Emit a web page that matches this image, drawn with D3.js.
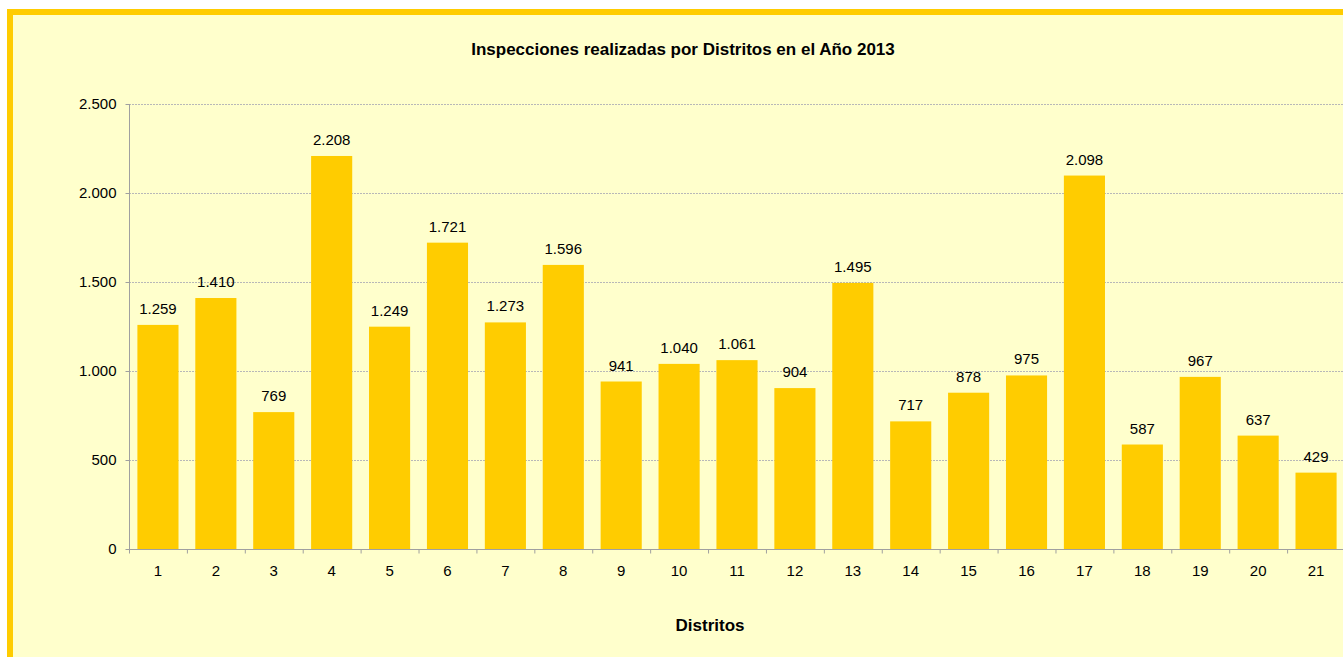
<!DOCTYPE html>
<html><head><meta charset="utf-8">
<script src="https://cdn.jsdelivr.net/npm/d3@7/dist/d3.min.js"></script>
<style>html,body{margin:0;padding:0;background:#fff;overflow:hidden}</style>
</head><body>
<svg id="c" width="1343" height="657"></svg>
<script>
const categories = ["1","2","3","4","5","6","7","8","9","10","11","12","13","14","15","16","17","18","19","20","21"];
const values = [1259,1410,769,2208,1249,1721,1273,1596,941,1040,1061,904,1495,717,878,975,2098,587,967,637,429];
const yTicks = [0,500,1000,1500,2000,2500];
const title = "Inspecciones realizadas por Distritos en el Año 2013";
const xTitle = "Distritos";

(function(){
const svg = d3.select("#c");
const font = "Liberation Sans, Arial, sans-serif";
// frame
svg.append("rect").attr("x",10).attr("y",12).attr("width",1343).attr("height",700)
  .attr("fill","#FFFFCC").attr("stroke","#FFCC00").attr("stroke-width",6);

const pLeft = 129, pRight = 1345, pTop = 104, pBottom = 549;
const x = d3.scaleBand().domain(categories).range([pLeft,pRight]).paddingInner(0.29).paddingOuter(0.145);
const y = d3.scaleLinear().domain([0,2500]).range([pBottom,pTop]);

// gridlines
svg.append("g").selectAll("line").data(yTicks.filter(d=>d>0)).join("line")
  .attr("x1",pLeft).attr("x2",1343).attr("y1",d=>y(d)+0.5).attr("y2",d=>y(d)+0.5)
  .attr("stroke","#b8b8b8").attr("stroke-width",1).attr("stroke-dasharray","2,1");

// bars
svg.append("g").selectAll("rect").data(values).join("rect")
  .attr("x",(d,i)=>x(categories[i])).attr("width",x.bandwidth())
  .attr("y",d=>y(d)).attr("height",d=>pBottom-y(d)).attr("fill","#FFCC00");

// value labels
const fmt = d3.formatLocale({decimal:",",thousands:".",grouping:[3],currency:["",""]}).format(",d");
svg.append("g").selectAll("text").data(values).join("text")
  .attr("x",(d,i)=>x(categories[i])+x.bandwidth()/2).attr("y",d=>y(d)-11)
  .attr("text-anchor","middle").attr("font-family",font).attr("font-size",15).attr("fill","#000")
  .text(d=>fmt(d));

// y axis
const yAxis = d3.axisLeft(y).tickValues(yTicks).tickSize(4).tickPadding(9).tickFormat(d=>fmt(d));
const gy = svg.append("g").attr("transform",`translate(${pLeft+0.5},0)`).call(yAxis);
gy.select(".domain").attr("stroke","#a0a0a0").attr("d",`M0,${pTop}V${pBottom}`);
gy.selectAll(".tick line").attr("stroke","#a0a0a0").attr("x2",-4);
gy.selectAll(".tick text").attr("font-family",font).attr("font-size",15).attr("fill","#000");

// x axis
const bw = x.step();
const gx = svg.append("g").attr("transform",`translate(0,${pBottom+0.5})`);
gx.append("line").attr("x1",pLeft).attr("x2",1343).attr("stroke","#a0a0a0");
const tickPos = d3.range(categories.length+1).map(i=>x(categories[0]) - x.paddingOuter()*bw + i*bw);
gx.selectAll("line.t").data(tickPos).join("line").attr("class","t")
  .attr("x1",d=>d+0.5).attr("x2",d=>d+0.5).attr("y1",0).attr("y2",4).attr("stroke","#a0a0a0");
gx.selectAll("text").data(categories).join("text")
  .attr("x",d=>x(d)+x.bandwidth()/2).attr("y",26).attr("text-anchor","middle")
  .attr("font-family",font).attr("font-size",15).attr("fill","#000").text(d=>d);

// titles
svg.append("text").attr("x",683).attr("y",55).attr("text-anchor","middle")
  .attr("font-family",font).attr("font-size",17).attr("font-weight","bold").text(title);
svg.append("text").attr("x",710).attr("y",631).attr("text-anchor","middle")
  .attr("font-family",font).attr("font-size",17).attr("font-weight","bold").text(xTitle);
})();
</script>
</body></html>
